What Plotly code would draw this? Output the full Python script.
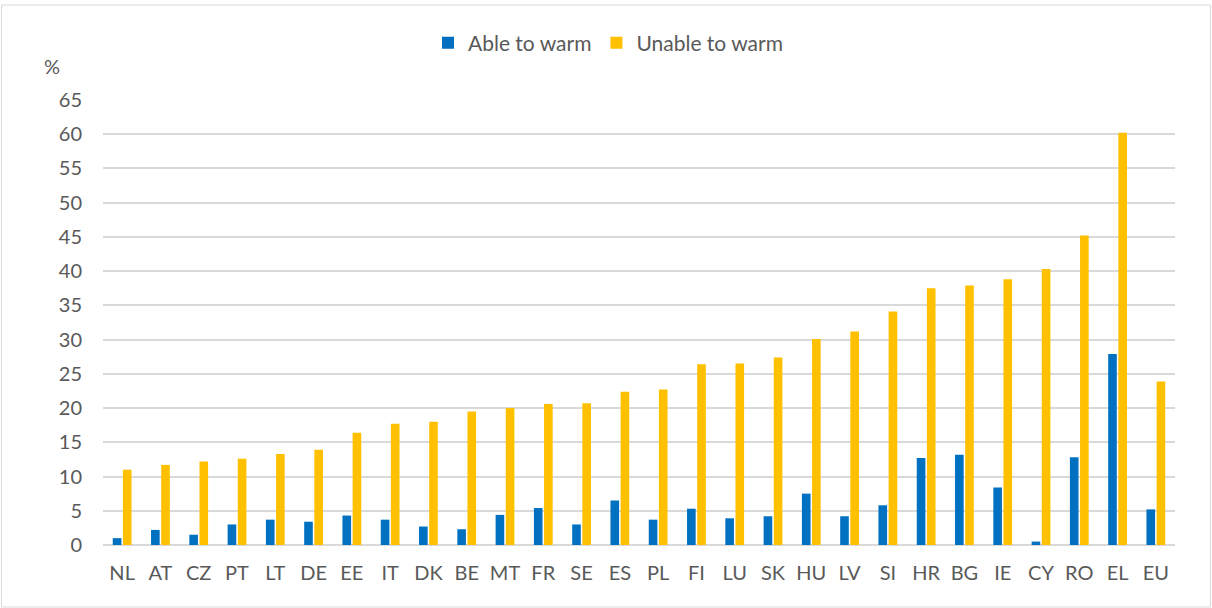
import plotly.graph_objects as go

countries = ["NL", "AT", "CZ", "PT", "LT", "DE", "EE", "IT", "DK", "BE", "MT", "FR", "SE", "ES",
             "PL", "FI", "LU", "SK", "HU", "LV", "SI", "HR", "BG", "IE", "CY", "RO", "EL", "EU"]
able_to_warm = [1.0, 2.2, 1.5, 3.0, 3.7, 3.4, 4.3, 3.7, 2.7, 2.3, 4.4, 5.4, 3.0, 6.5,
                3.7, 5.3, 3.9, 4.2, 7.5, 4.2, 5.8, 12.7, 13.2, 8.4, 0.5, 12.8, 27.9, 5.2]
unable_to_warm = [11.0, 11.7, 12.2, 12.6, 13.3, 13.9, 16.4, 17.7, 18.0, 19.5, 20.0, 20.6, 20.7, 22.4,
                  22.7, 26.4, 26.5, 27.4, 30.1, 31.2, 34.1, 37.5, 37.9, 38.8, 40.3, 45.2, 60.2, 23.9]
y_ticks = list(range(0, 70, 5))

TEXT = "#595959"
GRID = "#d9d9d9"
FONT = "Lato, 'Open Sans', sans-serif"
FS = 20

fig = go.Figure()
fig.add_trace(go.Bar(x=countries, y=able_to_warm, name="Able to warm",
                     marker=dict(color="#0070C0", line=dict(width=0))))
fig.add_trace(go.Bar(x=countries, y=unable_to_warm, name="Unable to warm",
                     marker=dict(color="#FFC000", line=dict(width=0))))

W, H = 1212, 608
L, R, T, B = 103, 37, 100, 63
pw, ph = W - L - R, H - T - B

fig.update_layout(
    width=W, height=H,
    margin=dict(l=L, r=R, t=T, b=B),
    paper_bgcolor="white", plot_bgcolor="white",
    barmode="group", bargap=0.47, bargroupgap=0.15,
    font=dict(family=FONT, size=FS, color=TEXT),
    legend=dict(orientation="h", x=(608 - L) / pw, xanchor="center", y=(H - 43 - B) / ph,
                yanchor="middle", font=dict(size=21, color=TEXT),
                itemwidth=30, traceorder="normal"),
    xaxis=dict(showgrid=False, showline=False, ticks="", ticklabelstandoff=14,
               tickfont=dict(size=FS, color=TEXT)),
    yaxis=dict(range=[0, 65], tickvals=y_ticks, showgrid=True, gridcolor=GRID, gridwidth=1.5,
               zeroline=True, zerolinecolor=GRID, zerolinewidth=2, showline=False,
               ticks="", ticklabelstandoff=20, tickfont=dict(size=FS, color=TEXT)),
    showlegend=True,
)

# "%" unit label above the value axis
fig.add_annotation(text="%", xref="paper", yref="paper",
                   x=(52 - L) / pw, y=(H - 66 - B) / ph, xanchor="center", yanchor="middle",
                   showarrow=False, font=dict(size=FS, color=TEXT))

# thin frame around the chart
fig.add_shape(type="rect", xref="paper", yref="paper",
              x0=(1.5 - L) / pw, x1=(1210.5 - L) / pw,
              y0=(H - 607 - B) / ph, y1=(H - 5 - B) / ph,
              line=dict(color=GRID, width=1), fillcolor="rgba(0,0,0,0)", layer="below")

fig.write_html("out.html")
